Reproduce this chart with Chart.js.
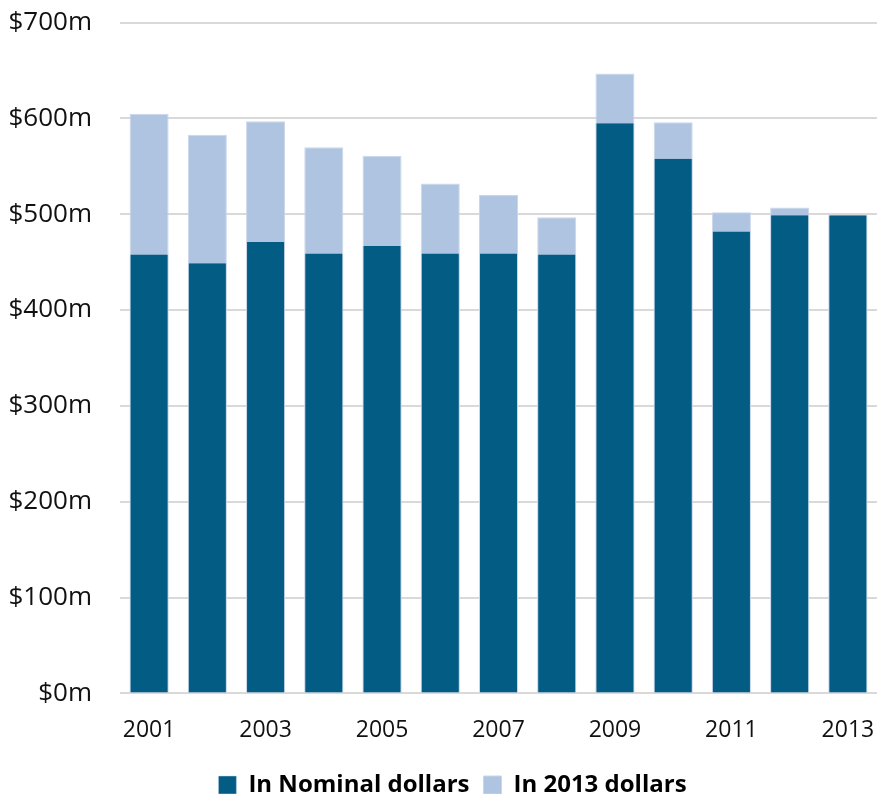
<!DOCTYPE html>
<html>
<head>
<meta charset="utf-8">
<script src="https://cdn.jsdelivr.net/npm/chart.js@4"></script>
<style>
  html, body { margin: 0; padding: 0; background: #fff; overflow: hidden; }
  #wrap { width: 877px; height: 828px; margin-top: -21px; }
</style>
</head>
<body>
<div id="wrap"><canvas id="myChart"></canvas></div>
<script>
const years = ["2001","2002","2003","2004","2005","2006","2007","2008","2009","2010","2011","2012","2013"];
const nominal = [458, 449, 471, 459, 467, 459, 459, 458, 595, 558, 482, 499, 499];
const real2013 = [605, 583, 597, 570, 561, 532, 520, 497, 647, 596, 502, 507, 499];
const yTicks = [0, 100, 200, 300, 400, 500, 600, 700];

Chart.defaults.font.family = "'Open Sans', 'Liberation Sans', sans-serif";
Chart.defaults.color = "#111";

// nudge legend a bit right, the original sits off-center
const legendShift = {
  id: "legendShift",
  afterLayout(chart) {
    chart.legend.left += 14;
    chart.legend.right += 14;
  }
};

new Chart(document.getElementById("myChart"), {
  type: "bar",
  data: {
    labels: years,
    datasets: [
      {
        label: "In Nominal dollars",
        data: nominal,
        backgroundColor: "#025c84",
        borderColor: "#c9d7ea",
        borderWidth: { left: 1, right: 1, top: 0, bottom: 0 },
        grouped: false,
        categoryPercentage: 1,
        barPercentage: 0.67
      },
      {
        label: "In 2013 dollars",
        data: real2013,
        backgroundColor: "#aec4e1",
        borderColor: "#c9d7ea",
        borderWidth: 1,
        grouped: false,
        categoryPercentage: 1,
        barPercentage: 0.67
      }
    ]
  },
  plugins: [legendShift],
  options: {
    responsive: true,
    maintainAspectRatio: false,
    animation: false,
    layout: { padding: 0 },
    plugins: {
      tooltip: { enabled: false },
      legend: {
        position: "bottom",
        labels: {
          boxWidth: 18,
          boxHeight: 18,
          padding: 14,
          font: { size: 24, weight: "bold" },
          color: "#000"
        }
      }
    },
    scales: {
      x: {
        grid: { display: false },
        border: { display: false },
        // tick padding also pads sideways, drop that
        afterFit: function (scale) { scale.paddingLeft = 0; scale.paddingRight = 0; },
        ticks: {
          autoSkip: false,
          maxRotation: 0,
          padding: 15,
          font: { size: 23 },
          callback: function (v, i) { return i % 2 === 0 ? years[i] : ""; }
        }
      },
      y: {
        min: 0,
        max: 700,
        afterBuildTicks: function (axis) { axis.ticks = yTicks.map(v => ({ value: v })); },
        afterFit: function (scale) { scale.width = 120; },
        grid: { color: "#d9d9d9", lineWidth: 2, drawTicks: false },
        border: { display: false },
        ticks: {
          padding: 28,
          font: { size: 26 },
          callback: function (v) { return "$" + v + "m"; }
        }
      }
    }
  }
});
</script>
</body>
</html>
